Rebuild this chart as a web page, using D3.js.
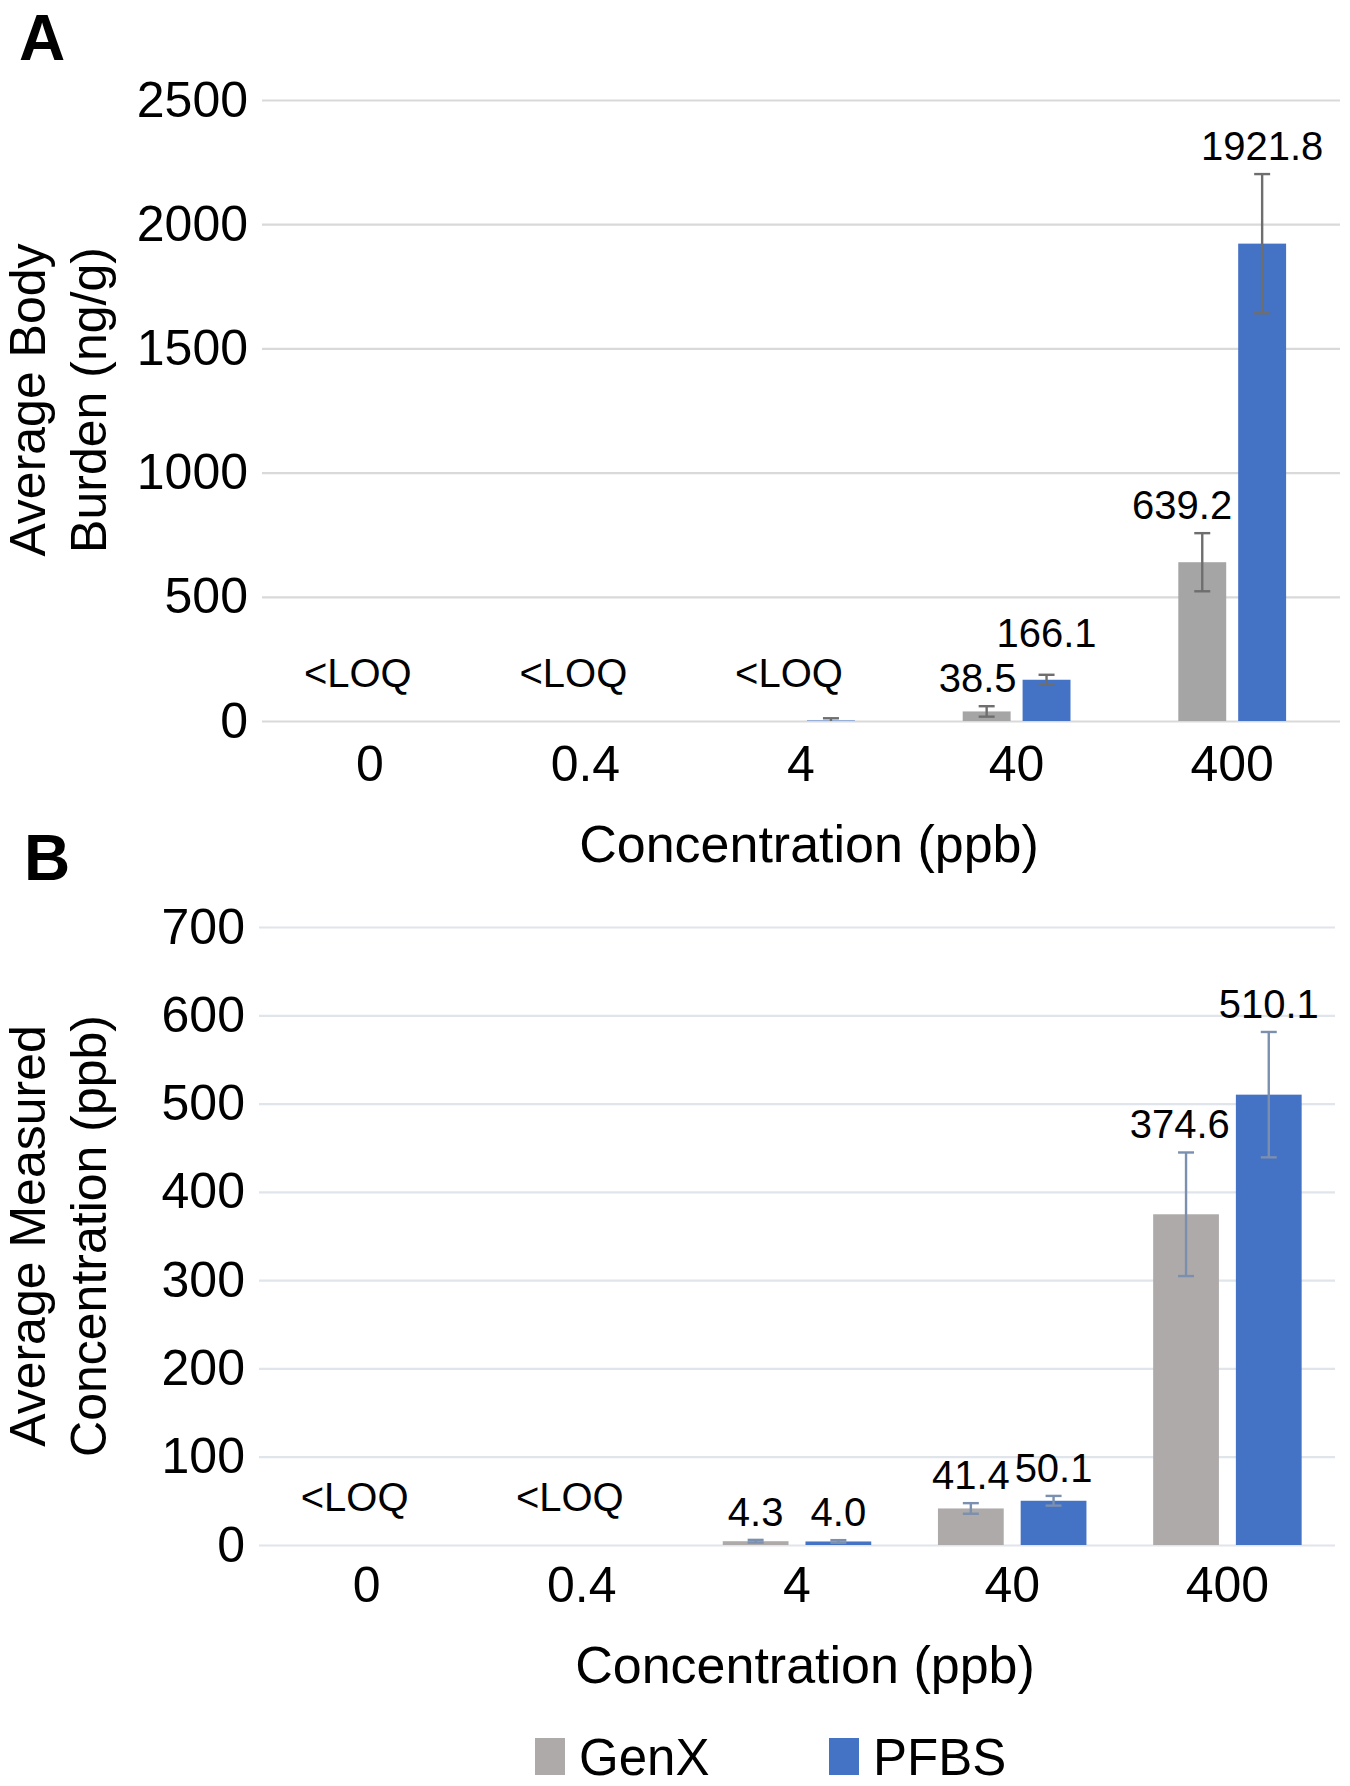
<!DOCTYPE html>
<html>
<head>
<meta charset="utf-8">
<script src="https://cdn.jsdelivr.net/npm/d3@7"></script>
<style>
  body { margin: 0; background: #fff; }
  text { font-family: "Liberation Sans", Arial, sans-serif; fill: #000; }
</style>
</head>
<body>
<div id="chart"></div>
<script>
// categories (exposure concentration, ppb)
var categories = ["0", "0.4", "4", "40", "400"];
var seriesNames = ["GenX", "PFBS"];

// panel A - average body burden (ng/g)
var bodyTicks = [0, 500, 1000, 1500, 2000, 2500];
var genxBody = [null, null, null, 38.5, 639.2];
var genxBodyErr = [null, null, null, 21, 117];
var pfbsBody = [null, null, 2, 166.1, 1921.8];
var pfbsBodyErr = [null, null, 9, 20, 280];
var bodyLoq = ["<LOQ", "<LOQ", "<LOQ", "", ""];

// panel B - average measured concentration (ppb)
var waterTicks = [0, 100, 200, 300, 400, 500, 600, 700];
var genxWater = [null, null, 4.3, 41.4, 374.6];
var genxWaterErr = [null, null, 1.5, 6, 70];
var pfbsWater = [null, null, 4.0, 50.1, 510.1];
var pfbsWaterErr = [null, null, 1.5, 5.5, 71];
var waterLoq = ["<LOQ", "<LOQ", "", "", ""];

var svg = d3.select("#chart").append("svg")
    .attr("width", 1350).attr("height", 1786);
svg.append("rect").attr("width", 1350).attr("height", 1786).attr("fill", "#fff");

function drawPanel(opt){
    var g = svg.append("g");
    var x = d3.scaleBand().domain(categories)
        .range([opt.left, opt.right])
        .paddingInner(opt.padInner).paddingOuter(opt.padInner / 2);
    var x1 = d3.scaleBand().domain(seriesNames)
        .range([0, x.bandwidth()]).paddingInner(opt.barGap);
    var y = d3.scaleLinear().domain([0, opt.ticks[opt.ticks.length - 1]])
        .range([opt.bottom, opt.top]);

    // y axis + gridlines
    var ya = g.append("g").attr("transform", "translate(" + opt.left + ",0)")
        .call(d3.axisLeft(y).tickValues(opt.ticks).tickFormat(d3.format("d"))
            .tickSizeInner(-(opt.right - opt.left)).tickSizeOuter(0).tickPadding(14));
    ya.select(".domain").remove();
    ya.selectAll("line").attr("stroke", opt.gridColor).attr("stroke-width", 2.2);
    ya.selectAll("text").attr("font-size", 50).attr("fill", "#000")
        .attr("font-family", "Liberation Sans, Arial, sans-serif");

    // x axis
    var xa = g.append("g").attr("transform", "translate(0," + opt.bottom + ")")
        .call(d3.axisBottom(x).tickSize(0).tickPadding(opt.xPad));
    xa.select(".domain").remove();
    xa.selectAll("text").attr("font-size", 50).attr("fill", "#000")
        .attr("font-family", "Liberation Sans, Arial, sans-serif");

    // bars
    var rows = [];
    categories.forEach(function(c, i){
        opt.series.forEach(function(s, j){
            if (s.values[i] != null){
                rows.push({cat: c, i: i, name: seriesNames[j], v: s.values[i], e: s.errs[i], color: s.color});
            }
        });
    });
    g.append("g").selectAll("rect").data(rows).enter().append("rect")
        .attr("x", d => x(d.cat) + x1(d.name))
        .attr("y", d => y(d.v))
        .attr("width", x1.bandwidth())
        .attr("height", d => y(0) - y(d.v))
        .attr("fill", d => d.color);

    // error bars
    var eb = g.append("g").attr("stroke", opt.errColor).attr("stroke-width", 2.4).attr("fill", "none");
    rows.forEach(function(d){
        var cx = x(d.cat) + x1(d.name) + x1.bandwidth() / 2;
        var hi = y(d.v + d.e), lo = y(Math.max(0, d.v - d.e));
        eb.append("line").attr("x1", cx).attr("x2", cx).attr("y1", hi).attr("y2", lo);
        eb.append("line").attr("x1", cx - 8).attr("x2", cx + 8).attr("y1", hi).attr("y2", hi);
        if (d.v - d.e > 0)
            eb.append("line").attr("x1", cx - 8).attr("x2", cx + 8).attr("y1", lo).attr("y2", lo);
    });

    // data labels
    var lab = g.append("g").attr("font-size", 40).attr("text-anchor", "middle");
    categories.forEach(function(c, i){
        if (opt.loq[i]){
            lab.append("text").attr("x", x(c) + x.bandwidth() / 2 - 12).attr("y", y(0) - 34).text(opt.loq[i]);
            return;
        }
        var gx = opt.series[0], pf = opt.series[1];
        if (gx.values[i] == null || pf.values[i] == null) return;
        var gCx = x(c) + x1("GenX") + x1.bandwidth() / 2;
        var pCx = x(c) + x1("PFBS") + x1.bandwidth() / 2;
        var gB = y(gx.values[i] + gx.errs[i]) - 14;
        var pB = y(pf.values[i] + pf.errs[i]) - 14;
        var tg = lab.append("text").attr("x", gCx).attr("y", gB).text(gx.values[i].toFixed(1));
        var tp = lab.append("text").attr("x", pCx).attr("y", pB).text(pf.values[i].toFixed(1));
        var wg = tg.node().getComputedTextLength(), wp = tp.node().getComputedTextLength();
        // keep the GenX label clear of the taller PFBS bar
        var pLeft = x(c) + x1("PFBS");
        if (y(pf.values[i]) < gB && gCx + wg / 2 > pLeft - 6){
            gCx = pLeft - 6 - wg / 2;
            tg.attr("x", gCx);
        }
        // lift PFBS label when the two labels collide
        if (gCx + wg / 2 > pCx - wp / 2 && Math.abs(gB - pB) < 45){
            pB = Math.min(pB, gB - 45);
            tp.attr("y", pB);
        }
    });

    // axis titles
    var mid = (opt.left + opt.right) / 2 + 8;
    g.append("text").attr("x", mid).attr("y", opt.xTitleY).attr("text-anchor", "middle")
        .attr("font-size", 52).text("Concentration (ppb)");
    var cy = opt.yTitleCenter;
    var yt = g.append("text").attr("transform", "translate(45," + cy + ") rotate(-90)")
        .attr("text-anchor", "middle").attr("font-size", 50);
    yt.append("tspan").attr("x", 0).attr("y", 0).text(opt.yTitle[0]);
    yt.append("tspan").attr("x", 0).attr("y", 61).text(opt.yTitle[1]);

    g.append("text").attr("x", opt.letterX).attr("y", opt.letterY)
        .attr("font-size", 64).attr("font-weight", "bold").text(opt.letter);
}

drawPanel({
    letter: "A", letterX: 19, letterY: 60,
    left: 262, right: 1340, top: 100, bottom: 721,
    padInner: 0.5, barGap: 0.2, xPad: 24,
    ticks: bodyTicks, gridColor: "#d9d9d9", errColor: "#6e6e6e",
    series: [
        {values: genxBody, errs: genxBodyErr, color: "#a5a5a5"},
        {values: pfbsBody, errs: pfbsBodyErr, color: "#4472c4"}
    ],
    loq: bodyLoq,
    xTitleY: 862, yTitleCenter: 400,
    yTitle: ["Average Body", "Burden (ng/g)"]
});

drawPanel({
    letter: "B", letterX: 24, letterY: 880,
    left: 259, right: 1335, top: 927, bottom: 1545,
    padInner: 0.31, barGap: 0.205, xPad: 21,
    ticks: waterTicks, gridColor: "#e0e4eb", errColor: "#7b8fae",
    series: [
        {values: genxWater, errs: genxWaterErr, color: "#aeaaaa"},
        {values: pfbsWater, errs: pfbsWaterErr, color: "#4472c4"}
    ],
    loq: waterLoq,
    xTitleY: 1683, yTitleCenter: 1236,
    yTitle: ["Average Measured", "Concentration (ppb)"]
});

// legend
var legend = svg.append("g");
var legendColors = ["#aeaaaa", "#4472c4"];
var legendX = d3.scaleOrdinal().domain(seriesNames).range([535, 829]);
seriesNames.forEach(function(n, i){
    legend.append("rect").attr("x", legendX(n)).attr("y", 1738).attr("width", 30).attr("height", 37)
        .attr("fill", legendColors[i]);
    legend.append("text").attr("x", legendX(n) + 44).attr("y", 1775).attr("font-size", 51).text(n);
});
</script>
</body>
</html>
